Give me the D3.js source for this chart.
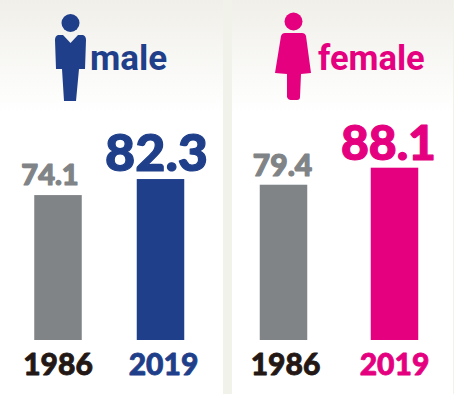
<!DOCTYPE html>
<html>
<head>
<meta charset="utf-8">
<script src="https://cdn.jsdelivr.net/npm/d3@7"></script>
<style>
  html, body { margin: 0; padding: 0; background: #fff; }
  svg { display: block; }
  text { font-family: Lato, sans-serif; font-weight: 900; paint-order: stroke; stroke-linejoin: round; }
  .sex-label { font-family: Roboto, sans-serif; font-weight: 700; }
</style>
</head>
<body>
<div id="chart"></div>
<script>
const years = ["1986", "2019"];
const maleValues = [74.1, 82.3];
const femaleValues = [79.4, 88.1];

const navy = "#1f3f8a";
const pink = "#e4007f";
const grey = "#808487";
const width = 454;
const height = 394;
const baseY = 340;
const barW = 47.5;

const svg = d3.select("#chart").append("svg").attr("width", width).attr("height", height);

const grad = svg.append("defs").append("linearGradient").attr("id", "panel-bg").attr("x1", 0).attr("x2", 0).attr("y1", 0).attr("y2", 1);
grad.append("stop").attr("offset", 0).attr("stop-color", "#f0efe9");
grad.append("stop").attr("offset", 1).attr("stop-color", "#ffffff");

// page colour shows through as the strips round the two panels
svg.append("rect").attr("width", width).attr("height", height).attr("fill", "#f1f2ea");

const y = d3.scaleLinear().domain([0, 88.1]).range([baseY, 167.7]);

const panels = [
  { name: "male", values: maleValues, color: navy, left: 0, right: 223, range: [58, 160.5], labelX: 90, labelSize: 35, valueX: [-8, -4], valueSizes: [29, 52], valueDy: [10, 8], yearX: [0, 3] },
  { name: "female", values: femaleValues, color: pink, left: 232, right: 453, range: [283.5, 394.5], labelX: 318, labelSize: 34.5, valueX: [-1, -6], valueSizes: [30, 48], valueDy: [9, 8], yearX: [2, 0] }
];

panels.forEach(p => {
  const g = svg.append("g").attr("class", "panel-" + p.name);
  g.append("rect").attr("x", p.left).attr("width", p.right - p.left).attr("height", height).attr("fill", "#fff");
  g.append("rect").attr("x", p.left).attr("width", p.right - p.left).attr("height", 112).attr("fill", "url(#panel-bg)");

  const x = d3.scalePoint().domain(years).range(p.range);

  g.selectAll("rect.bar").data(p.values).join("rect")
    .attr("class", "bar")
    .attr("x", (d, i) => x(years[i]) - barW / 2)
    .attr("y", d => y(d))
    .attr("width", barW)
    .attr("height", d => baseY - y(d))
    .attr("fill", (d, i) => i === 0 ? grey : p.color);

  g.selectAll("text.value").data(p.values).join("text")
    .attr("class", "value")
    .attr("x", (d, i) => x(years[i]) + p.valueX[i])
    .attr("y", (d, i) => y(d) - p.valueDy[i])
    .attr("text-anchor", "middle")
    .attr("font-size", (d, i) => p.valueSizes[i])
    .attr("fill", (d, i) => i === 0 ? grey : p.color)
    .attr("stroke", (d, i) => i === 0 ? grey : p.color)
    .attr("stroke-width", 1.2)
    .text(d => d3.format(".1f")(d));

  g.selectAll("text.year").data(years).join("text")
    .attr("class", "year")
    .attr("x", (d, i) => x(d) + p.yearX[i])
    .attr("y", 375)
    .attr("text-anchor", "middle")
    .attr("font-size", 30)
    .attr("fill", (d, i) => i === 0 ? "#231815" : p.color)
    .attr("stroke", (d, i) => i === 0 ? "#231815" : p.color)
    .attr("stroke-width", 0.8)
    .text(d => d);

  g.append("text").attr("class", "sex-label")
    .attr("x", p.labelX)
    .attr("y", 70)
    .attr("font-size", p.labelSize)
    .attr("fill", p.color)
    .text(p.name);
});

// pictograms
const manIcon = svg.append("g").attr("fill", navy);
manIcon.append("circle").attr("cx", 70.5).attr("cy", 23).attr("r", 9);
manIcon.append("path").attr("d", "M58 35 L63 35 L70.5 43 L78 35 L83 35 Q86 36 86 40 L85 69 L79 69 L76 101 L64 101 L62 69 L56 69 L55 40 Q55 36 58 35 Z");

const womanIcon = svg.append("g").attr("fill", pink);
womanIcon.append("circle").attr("cx", 293.5).attr("cy", 21.5).attr("r", 9);
womanIcon.append("path").attr("d", "M285 33 L302 33 Q305 33 306 36 L311 73 L301 74 L300 97 Q300 100 297 100 L291 100 Q288 100 287 97 L287 74 L275 73 L281 36 Q282 33 285 33 Z");
</script>
</body>
</html>
